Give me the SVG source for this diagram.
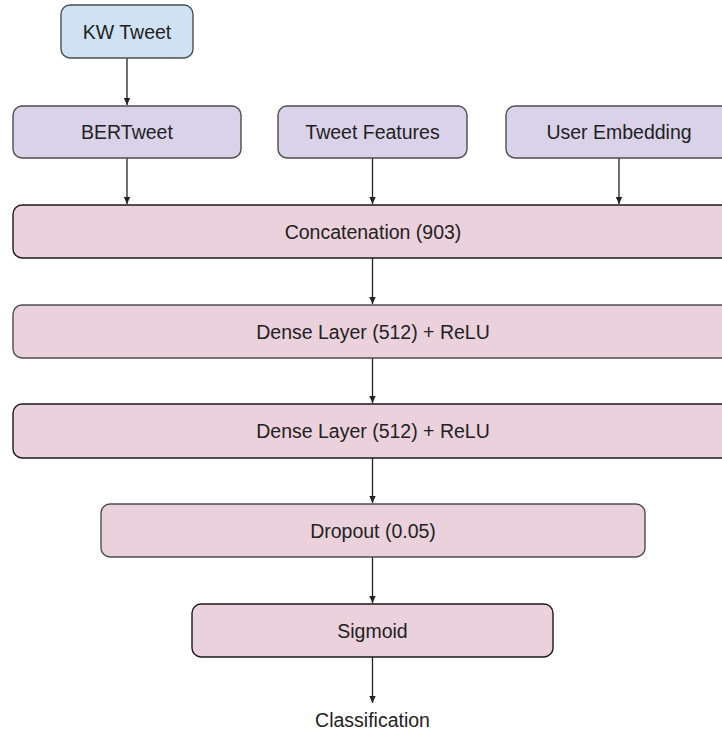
<svg xmlns="http://www.w3.org/2000/svg" width="722" height="732" viewBox="0 0 722 732">
  <style>
    .box { stroke: #4d4d4d; stroke-width: 1.4; }
    .dark { stroke: #1a1a1a; }
    .input { fill: #cfe2f3; }
    .embed { fill: #d9d2e9; }
    .layer { fill: #ead1dc; }
    .label { font-family: "Liberation Sans", Arial, sans-serif; font-size: 19.5px; fill: #222222; text-anchor: middle; dominant-baseline: central; }
    .edge { stroke: #222222; stroke-width: 1.3; fill: none; marker-end: url(#arrow); }
  </style>
  <defs>
    <marker id="arrow" markerWidth="8" markerHeight="8" refX="7" refY="4" orient="auto" markerUnits="userSpaceOnUse">
      <path d="M0,0.8 L7,4 L0,7.2 Z" fill="#222222"/>
    </marker>
  </defs>
  <rect width="722" height="732" fill="#ffffff"/>

  <g id="connectors">
    <line class="edge" x1="127" y1="58" x2="127" y2="105"/>
    <line class="edge" x1="127" y1="158" x2="127" y2="204"/>
    <line class="edge" x1="372.5" y1="158" x2="372.5" y2="204"/>
    <line class="edge" x1="619" y1="158" x2="619" y2="204"/>
    <line class="edge" x1="372.5" y1="258" x2="372.5" y2="304"/>
    <line class="edge" x1="372.5" y1="358" x2="372.5" y2="403"/>
    <line class="edge" x1="372.5" y1="458" x2="372.5" y2="503"/>
    <line class="edge" x1="372.5" y1="557" x2="372.5" y2="603"/>
    <line class="edge" x1="372.5" y1="657" x2="372.5" y2="703"/>
  </g>

  <g id="kw-tweet">
    <rect class="box input" x="61" y="5" width="132" height="53" rx="9"/>
    <text class="label" x="127" y="32">KW Tweet</text>
  </g>
  <g id="bertweet">
    <rect class="box embed" x="13" y="106" width="228" height="52" rx="9"/>
    <text class="label" x="127" y="132">BERTweet</text>
  </g>
  <g id="tweet-features">
    <rect class="box embed" x="278" y="106" width="189" height="52" rx="9"/>
    <text class="label" x="372.5" y="132">Tweet Features</text>
  </g>
  <g id="user-embedding">
    <rect class="box embed" x="506" y="106" width="240" height="52" rx="9"/>
    <text class="label" x="619" y="132">User Embedding</text>
  </g>
  <g id="concatenation">
    <rect class="box layer dark" x="13" y="205" width="740" height="53" rx="9"/>
    <text class="label" x="373" y="232">Concatenation (903)</text>
  </g>
  <g id="dense-1">
    <rect class="box layer" x="13" y="305" width="740" height="53" rx="9"/>
    <text class="label" x="373" y="332">Dense Layer (512) + ReLU</text>
  </g>
  <g id="dense-2">
    <rect class="box layer dark" x="13" y="404" width="740" height="54" rx="9"/>
    <text class="label" x="373" y="431">Dense Layer (512) + ReLU</text>
  </g>
  <g id="dropout">
    <rect class="box layer" x="101" y="504" width="544" height="53" rx="9"/>
    <text class="label" x="373" y="530.5">Dropout (0.05)</text>
  </g>
  <g id="sigmoid">
    <rect class="box layer dark" x="192" y="604" width="361" height="53" rx="9"/>
    <text class="label" x="372.5" y="631">Sigmoid</text>
  </g>
  <g id="classification">
    <text class="label" x="372.5" y="720">Classification</text>
  </g>
</svg>
